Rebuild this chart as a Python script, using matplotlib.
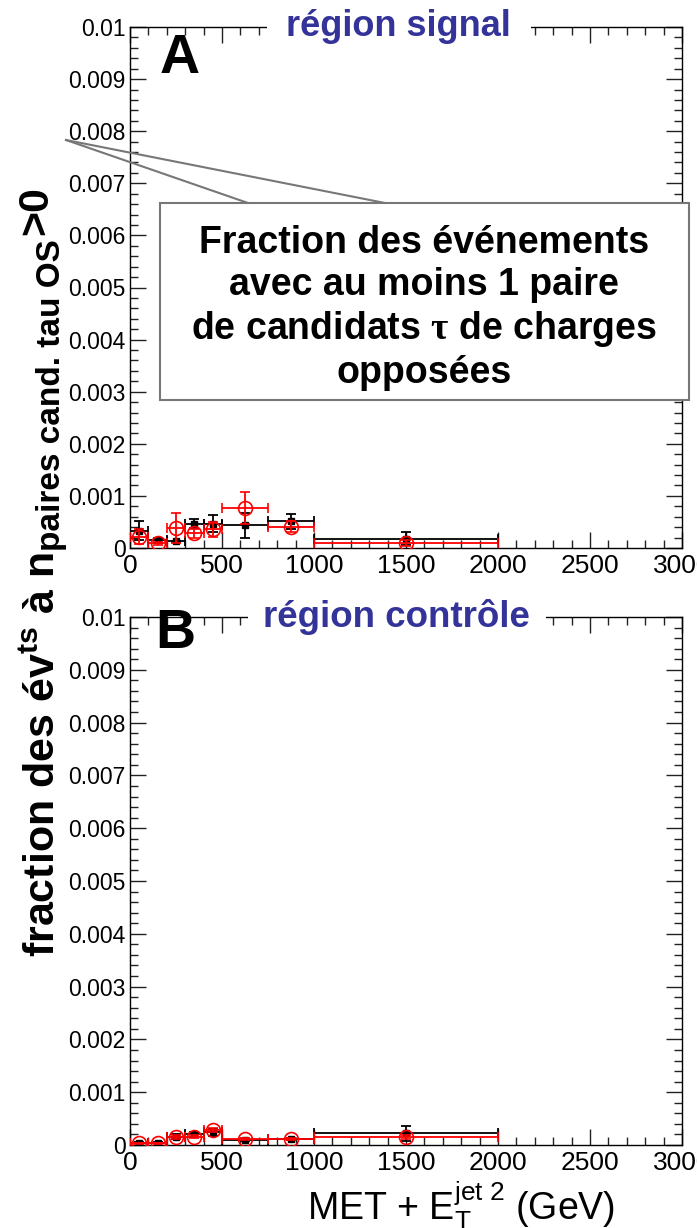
import matplotlib
matplotlib.use("Agg")
import matplotlib.pyplot as plt
from matplotlib.ticker import MultipleLocator, FuncFormatter
from matplotlib.patches import Rectangle
from matplotlib.lines import Line2D
import numpy as np

plt.rcParams['font.family'] = ['Liberation Sans', 'DejaVu Sans']
plt.rcParams['mathtext.fontset'] = 'custom'
plt.rcParams['mathtext.rm'] = 'Liberation Sans'
plt.rcParams['mathtext.it'] = 'Liberation Sans'
plt.rcParams['mathtext.bf'] = 'Liberation Sans:bold'
plt.rcParams['mathtext.sf'] = 'Liberation Serif:bold'

# ---- data ----
bin_lo = [0, 100, 200, 300, 400, 500, 750, 1000]
bin_hi = [100, 200, 300, 400, 500, 750, 1000, 2000]

sig_black = [0.00033, 0.00015, 0.00013, 0.00047, 0.00047, 0.00044, 0.00051, 0.00018]
sig_black_err = [0.00018, 0.00005, 0.00001, 0.00008, 0.00016, 0.00024, 0.00014, 0.00013]
sig_red = [0.00022, 0.00009, 0.00038, 0.00028, 0.00036, 0.00077, 0.00041, 0.00010]
sig_red_err = [0.00015, 0.00003, 0.00029, 0.00008, 0.00014, 0.00030, 0.00010, 0.00006]

ctl_black = [0.00004, 0.00004, 0.00016, 0.00020, 0.00024, 0.00010, 0.00012, 0.00022]
ctl_black_err = [0.00001, 0.00001, 0.00005, 0.00005, 0.00007, 0.00002, 0.00002, 0.00014]
ctl_red = [0.00003, 0.00003, 0.00015, 0.00016, 0.00028, 0.00012, 0.00012, 0.00015]
ctl_red_err = [0.00001, 0.00001, 0.00003, 0.00003, 0.00004, 0.00002, 0.00002, 0.00003]

panel_letters = ["A", "B"]
panel_titles = ["région signal", "région contrôle"]
box_text = "Fraction des événements\navec au moins 1 paire\nde candidats $\\mathsf{τ}$ de charges\nopposées"
ylabel_main = r"$\mathbf{fraction\ des\ év^{ts}\ à\ n}$"
ylabel_sub = "paires cand. tau OS"
ylabel_tail = ">0"
xlabel = r"MET + E$_T^{jet\ 2}$ (GeV)"

W, H = 697, 1228
fig = plt.figure(figsize=(W / 100, H / 100), dpi=100)

def fx(px):
    return px / W

def fy(py):
    return 1 - py / H

ax_rects = [
    [fx(130), fy(548), fx(682) - fx(130), fy(27) - fy(548)],
    [fx(130), fy(1145), fx(682) - fx(130), fy(617) - fy(1145)],
]
series = [
    (sig_black, sig_black_err, sig_red, sig_red_err),
    (ctl_black, ctl_black_err, ctl_red, ctl_red_err),
]
title_x = [0.487, 0.483]
title_bg_pad = [14, 11]
title_size = [26, 26.5]
letter_pos = [(0.054, 0.988), (0.045, 1.017)]

lo = np.array(bin_lo, dtype=float)
hi = np.array(bin_hi, dtype=float)
xc = (lo + hi) / 2
xw = (hi - lo) / 2

def yfmt(v, pos):
    if abs(v) < 1e-12:
        return "0"
    s = "%.3f" % v
    if s == "0.010":
        return "0.01"
    return s

def xfmt(v, pos):
    return "%d" % v

for i, rect in enumerate(ax_rects):
    ax = fig.add_axes(rect)
    b, be, r, re_ = series[i]
    ax.errorbar(xc, b, xerr=xw, yerr=be, fmt='s', color='black', ms=4,
                elinewidth=1.3, capsize=3.5, capthick=1.3, zorder=3)
    ax.errorbar(xc, r, xerr=xw, yerr=re_, fmt='o', color='red', mfc='none',
                mec='red', ms=10, mew=1.2, elinewidth=1.3, capsize=3.5,
                capthick=1.3, zorder=4)
    ax.set_xlim(0, 3000)
    ax.set_ylim(0, 0.01)
    ax.xaxis.set_major_locator(MultipleLocator(500))
    ax.xaxis.set_minor_locator(MultipleLocator(100))
    ax.yaxis.set_major_locator(MultipleLocator(0.001))
    ax.yaxis.set_minor_locator(MultipleLocator(0.0002))
    ax.yaxis.set_major_formatter(FuncFormatter(yfmt))
    ax.xaxis.set_major_formatter(FuncFormatter(xfmt))
    ax.tick_params(which='both', direction='in', top=True, right=True,
                   width=1.0, color='#222222')
    ax.tick_params(which='major', length=11.5)
    ax.tick_params(which='minor', length=5.8)
    ax.tick_params(axis='y', labelsize=16.5, pad=3)
    ax.tick_params(axis='x', labelsize=19, pad=4)
    for sp in ax.spines.values():
        sp.set_linewidth(1.0)
    ax.text(letter_pos[i][0], letter_pos[i][1], panel_letters[i],
            transform=ax.transAxes, fontsize=40, fontweight='bold',
            ha='left', va='top', zorder=6, clip_on=False)
    ax.text(title_x[i], 1.0, panel_titles[i], transform=ax.transAxes,
            fontsize=title_size[i], fontweight='bold', color='#333399',
            ha='center', va='center', zorder=10, clip_on=False,
            bbox=dict(facecolor='white', edgecolor='none', pad=title_bg_pad[i]))

# callout lines
for (x2, y2) in [(248, 203), (385, 203)]:
    fig.add_artist(Line2D([fx(66), fx(x2)], [fy(140), fy(y2)],
                          transform=fig.transFigure, color='#777777', lw=1.5))
# callout box
fig.add_artist(Rectangle((fx(160), fy(400)), fx(689) - fx(160), fy(203) - fy(400),
                         transform=fig.transFigure, facecolor='white',
                         edgecolor='#777777', lw=1.5, zorder=5))
fig.text(fx(424), fy(308), box_text, ha='center', va='center', fontsize=27,
         fontweight='bold', linespacing=1.2, zorder=6)

# y label built from pieces: main, subscript, raised ">0"
renderer = fig.canvas.get_renderer()
t_main = fig.text(fx(55), fy(957), ylabel_main, rotation=90,
                  rotation_mode='anchor', ha='left', va='baseline', fontsize=31)
bb = t_main.get_window_extent(renderer=renderer)
t_sub = fig.text(fx(60), (bb.y1 + 1) / H, ylabel_sub, rotation=90,
                 rotation_mode='anchor', ha='left', va='baseline', fontsize=24,
                 fontweight='bold')
bb2 = t_sub.get_window_extent(renderer=renderer)
fig.text(fx(47), (bb2.y1 + 4) / H, ylabel_tail, rotation=90,
         rotation_mode='anchor', ha='left', va='baseline', fontsize=31,
         fontweight='bold')

fig.text(fx(615), fy(1206), xlabel, ha='right', va='center', fontsize=27)

fig.savefig("out.png", dpi=100)
